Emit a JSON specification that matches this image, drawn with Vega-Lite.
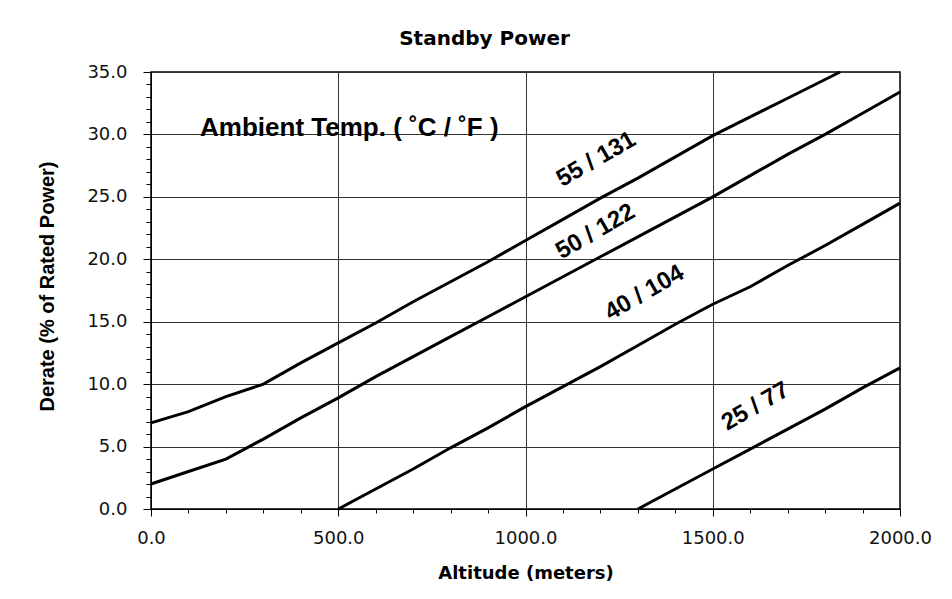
{
  "$schema": "https://vega.github.io/schema/vega-lite/v6.json",
  "width": 749,
  "height": 437,
  "autosize": "none",
  "padding": {"left": 151, "top": 72, "right": 52, "bottom": 90},
  "background": "white",
  "title": {
    "text": "Standby Power",
    "font": "DejaVu Sans",
    "fontSize": 20,
    "fontWeight": "bold",
    "color": "black",
    "anchor": "middle",
    "dx": -41,
    "offset": -2,
    "baseline": "alphabetic"
  },
  "config": {
    "view": {"stroke": "black", "strokeWidth": 1.5},
    "axis": {
      "domainColor": "black",
      "tickColor": "black",
      "gridColor": "#333333",
      "gridWidth": 1,
      "labelColor": "#111111",
      "labelFont": "DejaVu Sans",
      "labelFontSize": 18,
      "labelOverlap": false,
      "labelFlush": false,
      "labelBound": false,
      "titleColor": "black",
      "titleFontWeight": "bold",
      "tickCount": 200
    }
  },
  "datasets": {
    "curves": [
      {"series": "55 / 131", "altitude": 0, "derate": 6.9},
      {"series": "55 / 131", "altitude": 100, "derate": 7.8},
      {"series": "55 / 131", "altitude": 200, "derate": 9.0},
      {"series": "55 / 131", "altitude": 300, "derate": 10.0},
      {"series": "55 / 131", "altitude": 400, "derate": 11.7},
      {"series": "55 / 131", "altitude": 500, "derate": 13.3},
      {"series": "55 / 131", "altitude": 600, "derate": 14.9},
      {"series": "55 / 131", "altitude": 700, "derate": 16.6},
      {"series": "55 / 131", "altitude": 800, "derate": 18.2},
      {"series": "55 / 131", "altitude": 900, "derate": 19.8},
      {"series": "55 / 131", "altitude": 1000, "derate": 21.5},
      {"series": "55 / 131", "altitude": 1100, "derate": 23.2},
      {"series": "55 / 131", "altitude": 1200, "derate": 24.9},
      {"series": "55 / 131", "altitude": 1300, "derate": 26.5},
      {"series": "55 / 131", "altitude": 1400, "derate": 28.2},
      {"series": "55 / 131", "altitude": 1500, "derate": 29.9},
      {"series": "55 / 131", "altitude": 1600, "derate": 31.4},
      {"series": "55 / 131", "altitude": 1700, "derate": 32.9},
      {"series": "55 / 131", "altitude": 1800, "derate": 34.4},
      {"series": "55 / 131", "altitude": 1840, "derate": 35.0},
      {"series": "50 / 122", "altitude": 0, "derate": 2.0},
      {"series": "50 / 122", "altitude": 100, "derate": 3.0},
      {"series": "50 / 122", "altitude": 200, "derate": 4.0},
      {"series": "50 / 122", "altitude": 300, "derate": 5.6},
      {"series": "50 / 122", "altitude": 400, "derate": 7.3},
      {"series": "50 / 122", "altitude": 500, "derate": 8.9},
      {"series": "50 / 122", "altitude": 600, "derate": 10.6},
      {"series": "50 / 122", "altitude": 700, "derate": 12.2},
      {"series": "50 / 122", "altitude": 800, "derate": 13.8},
      {"series": "50 / 122", "altitude": 900, "derate": 15.4},
      {"series": "50 / 122", "altitude": 1000, "derate": 17.0},
      {"series": "50 / 122", "altitude": 1100, "derate": 18.6},
      {"series": "50 / 122", "altitude": 1200, "derate": 20.2},
      {"series": "50 / 122", "altitude": 1300, "derate": 21.8},
      {"series": "50 / 122", "altitude": 1400, "derate": 23.4},
      {"series": "50 / 122", "altitude": 1500, "derate": 25.0},
      {"series": "50 / 122", "altitude": 1600, "derate": 26.7},
      {"series": "50 / 122", "altitude": 1700, "derate": 28.4},
      {"series": "50 / 122", "altitude": 1800, "derate": 30.0},
      {"series": "50 / 122", "altitude": 1900, "derate": 31.7},
      {"series": "50 / 122", "altitude": 2000, "derate": 33.4},
      {"series": "40 / 104", "altitude": 500, "derate": 0.0},
      {"series": "40 / 104", "altitude": 600, "derate": 1.6},
      {"series": "40 / 104", "altitude": 700, "derate": 3.2},
      {"series": "40 / 104", "altitude": 800, "derate": 4.9},
      {"series": "40 / 104", "altitude": 900, "derate": 6.5},
      {"series": "40 / 104", "altitude": 1000, "derate": 8.2},
      {"series": "40 / 104", "altitude": 1100, "derate": 9.8},
      {"series": "40 / 104", "altitude": 1200, "derate": 11.4},
      {"series": "40 / 104", "altitude": 1300, "derate": 13.1},
      {"series": "40 / 104", "altitude": 1400, "derate": 14.8},
      {"series": "40 / 104", "altitude": 1500, "derate": 16.4},
      {"series": "40 / 104", "altitude": 1600, "derate": 17.8},
      {"series": "40 / 104", "altitude": 1700, "derate": 19.5},
      {"series": "40 / 104", "altitude": 1800, "derate": 21.1},
      {"series": "40 / 104", "altitude": 1900, "derate": 22.8},
      {"series": "40 / 104", "altitude": 2000, "derate": 24.5},
      {"series": "25 / 77", "altitude": 1300, "derate": 0.0},
      {"series": "25 / 77", "altitude": 1400, "derate": 1.6},
      {"series": "25 / 77", "altitude": 1500, "derate": 3.2},
      {"series": "25 / 77", "altitude": 1600, "derate": 4.8},
      {"series": "25 / 77", "altitude": 1700, "derate": 6.4},
      {"series": "25 / 77", "altitude": 1800, "derate": 8.0},
      {"series": "25 / 77", "altitude": 1900, "derate": 9.7},
      {"series": "25 / 77", "altitude": 2000, "derate": 11.3}
    ],
    "labels": [
      {"label": "55 / 131", "altitude": 1189, "derate": 28.0},
      {"label": "50 / 122", "altitude": 1187, "derate": 22.2},
      {"label": "40 / 104", "altitude": 1318, "derate": 17.3},
      {"label": "25 / 77", "altitude": 1614, "derate": 8.2}
    ],
    "notes": [
      {"note": "Ambient Temp. ( ˚C / ˚F )", "altitude": 131, "derate": 29.9}
    ]
  },
  "layer": [
    {
      "data": {"name": "curves"},
      "mark": {"type": "line", "color": "black", "strokeWidth": 3},
      "encoding": {
        "x": {
          "field": "altitude",
          "type": "quantitative",
          "scale": {"domain": [0, 2000], "nice": false},
          "axis": {
            "values": [0, 100, 200, 300, 400, 500, 600, 700, 800, 900, 1000, 1100, 1200, 1300, 1400, 1500, 1600, 1700, 1800, 1900, 2000],
            "tickCount": 200,
            "labelExpr": "datum.value % 500 === 0 ? format(datum.value, '.1f') : ''",
            "gridOpacity": {"condition": {"test": "datum.value % 500 === 0", "value": 1}, "value": 0},
            "tickSize": {"condition": {"test": "datum.value % 500 === 0", "value": 7}, "value": 4},
            "labelPadding": 13,
            "title": "Altitude (meters)",
            "titleFont": "DejaVu Sans",
            "titleFontSize": 18,
            "titleY": 64,
            "titleBaseline": "middle"
          }
        },
        "y": {
          "field": "derate",
          "type": "quantitative",
          "scale": {"domain": [0, 35], "nice": false},
          "axis": {
            "values": [0, 1, 2, 3, 4, 5, 6, 7, 8, 9, 10, 11, 12, 13, 14, 15, 16, 17, 18, 19, 20, 21, 22, 23, 24, 25, 26, 27, 28, 29, 30, 31, 32, 33, 34, 35],
            "tickCount": 200,
            "labelExpr": "datum.value % 5 === 0 ? format(datum.value, '.1f') : ''",
            "gridOpacity": {"condition": {"test": "datum.value % 5 === 0", "value": 1}, "value": 0},
            "tickSize": {"condition": {"test": "datum.value % 5 === 0", "value": 8}, "value": 5},
            "labelPadding": 16,
            "title": "Derate (% of Rated Power)",
            "titleFont": "Liberation Sans",
            "titleFontSize": 20,
            "titleX": -104,
            "titleY": 214,
            "titleBaseline": "middle"
          }
        },
        "detail": {"field": "series", "type": "nominal"}
      }
    },
    {
      "data": {"name": "labels"},
      "mark": {"type": "text", "font": "Liberation Sans", "fontSize": 24, "fontWeight": "bold", "angle": -30, "align": "center", "baseline": "middle", "color": "black"},
      "encoding": {
        "x": {"field": "altitude", "type": "quantitative"},
        "y": {"field": "derate", "type": "quantitative"},
        "text": {"field": "label", "type": "nominal"}
      }
    },
    {
      "data": {"name": "notes"},
      "mark": {"type": "text", "font": "Liberation Sans", "fontSize": 26, "fontWeight": "bold", "align": "left", "baseline": "alphabetic", "color": "black"},
      "encoding": {
        "x": {"field": "altitude", "type": "quantitative"},
        "y": {"field": "derate", "type": "quantitative"},
        "text": {"field": "note", "type": "nominal"}
      }
    }
  ]
}
